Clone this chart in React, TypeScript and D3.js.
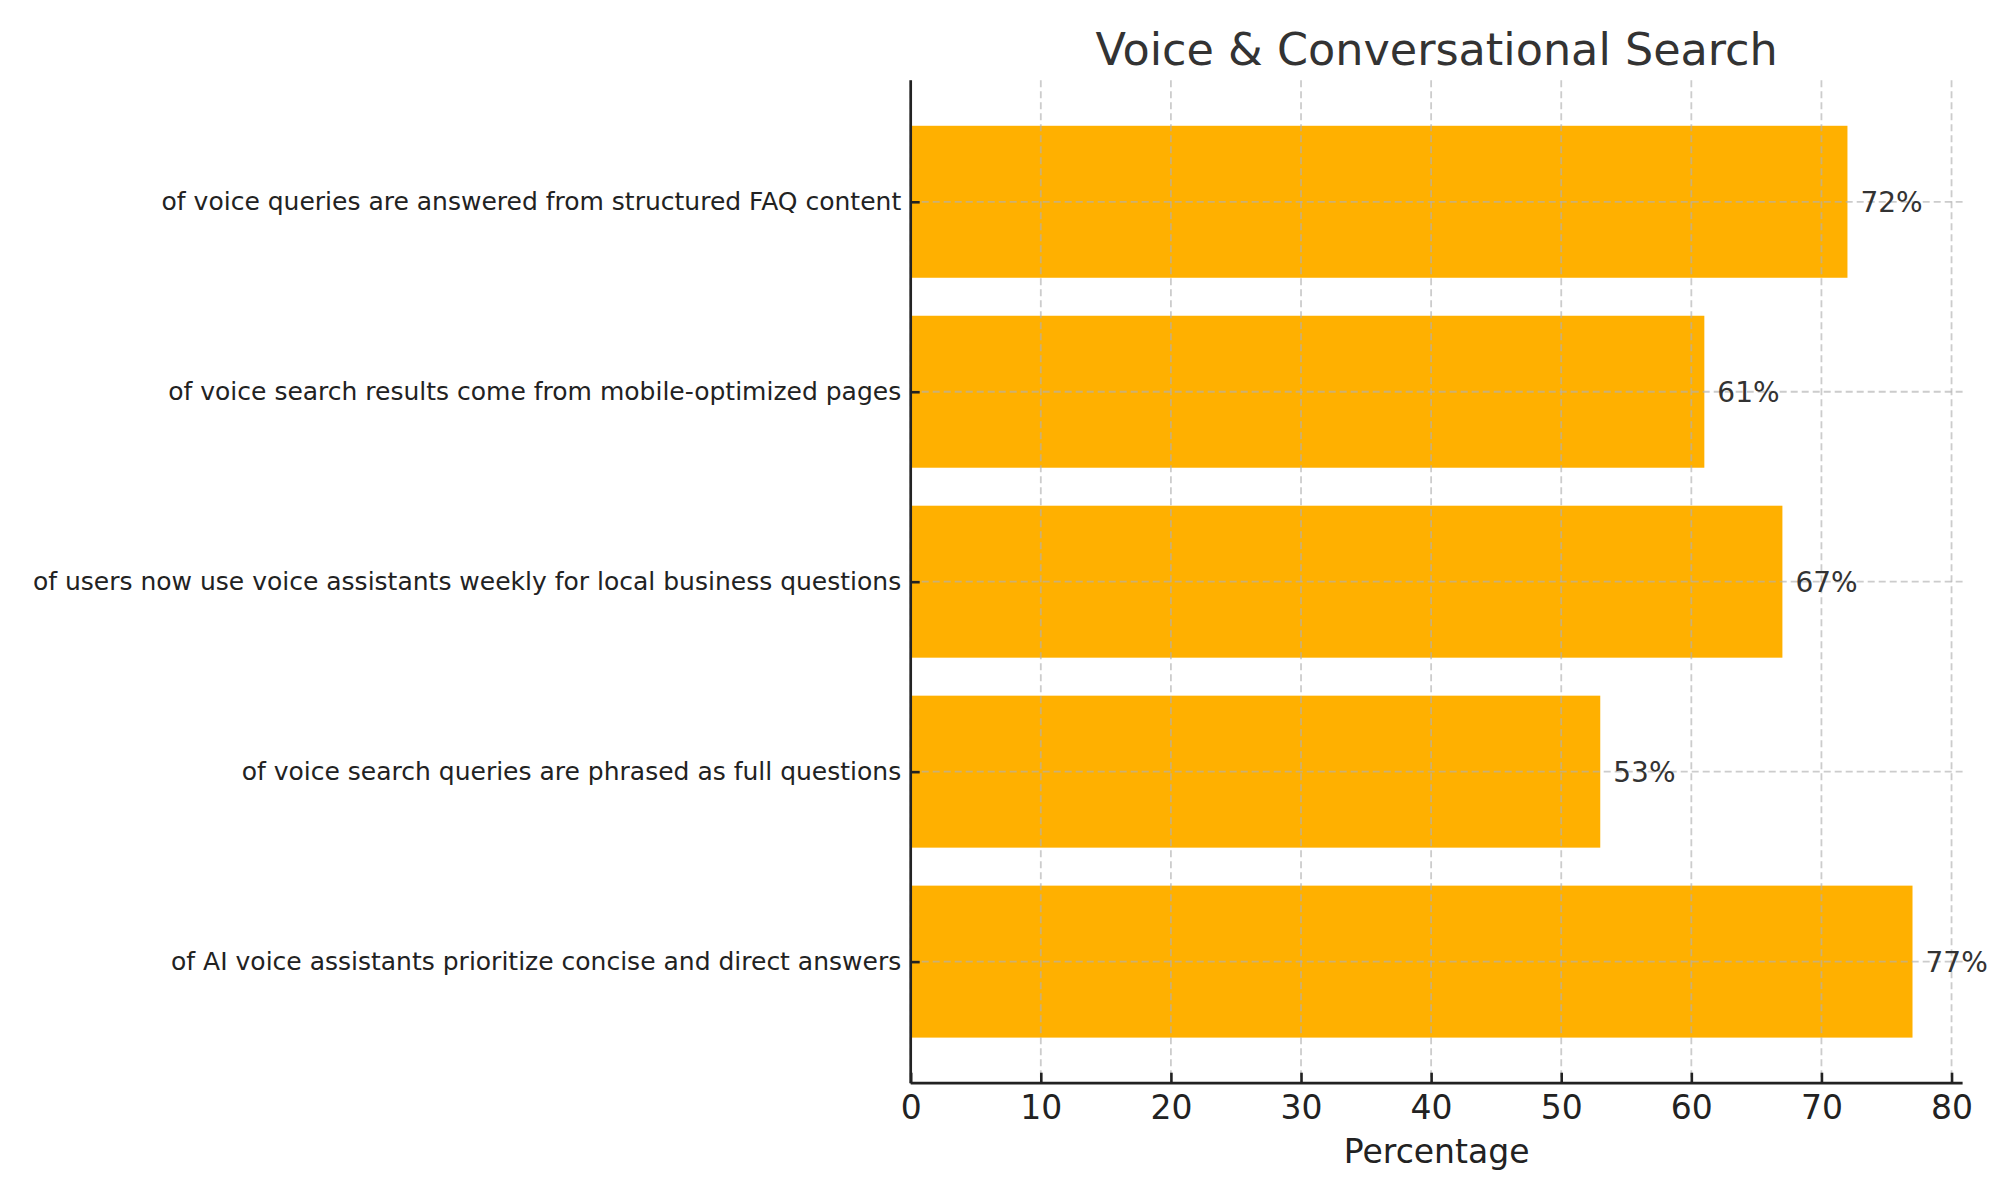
import { useEffect, useRef } from "react";
import * as d3 from "d3";

// rows listed top to bottom as they appear in the chart
const categories = [
  "of voice queries are answered from structured FAQ content",
  "of voice search results come from mobile-optimized pages",
  "of users now use voice assistants weekly for local business questions",
  "of voice search queries are phrased as full questions",
  "of AI voice assistants prioritize concise and direct answers",
];
const values = [72, 61, 67, 53, 77];
const xTicks = [0, 10, 20, 30, 40, 50, 60, 70, 80];

const WIDTH = 2000;
const HEIGHT = 1200;

export default function App() {
  const svgRef = useRef<SVGSVGElement>(null);

  useEffect(() => {
    if (!svgRef.current) return;
    document.body.style.margin = "0";

    const margin = { top: 80.2, right: 37.4, bottom: 116.8, left: 910.7 };
    const innerWidth = WIDTH - margin.left - margin.right;
    const innerHeight = HEIGHT - margin.top - margin.bottom;

    const svg = d3.select(svgRef.current);
    svg.selectAll("*").remove();
    svg.attr("viewBox", `0 0 ${WIDTH} ${HEIGHT}`)
      .style("font-family", "'DejaVu Sans', sans-serif");

    const g = svg.append("g")
      .attr("transform", `translate(${margin.left},${margin.top})`);

    // matplotlib-like limits: 5% margin on the max value
    const xMax = (d3.max(values) as number) * 1.05;
    const xScale = d3.scaleLinear().domain([0, xMax]).range([0, innerWidth]);

    // rows indexed 0..n-1 from the top, bar height 0.8, 0.24 padding above/below
    const n = categories.length;
    const yScale = d3.scaleLinear()
      .domain([-0.64, n - 1 + 0.64])
      .range([0, innerHeight]);
    const barH = yScale(0.8) - yScale(0);

    // bars
    g.selectAll("rect.bar")
      .data(values)
      .join("rect")
      .attr("class", "bar")
      .attr("x", xScale(0))
      .attr("y", (_, i) => yScale(i) - barH / 2)
      .attr("width", d => xScale(d) - xScale(0))
      .attr("height", barH)
      .attr("fill", "#FFB000");

    // grid (drawn over the bars)
    const grid = g.append("g")
      .attr("stroke", "#b0b0b0")
      .attr("stroke-opacity", 0.65)
      .attr("stroke-width", 1.8)
      .attr("stroke-dasharray", "7,4");

    grid.selectAll("line.vx")
      .data(xTicks)
      .join("line")
      .attr("class", "vx")
      .attr("x1", d => xScale(d))
      .attr("x2", d => xScale(d))
      .attr("y1", 0)
      .attr("y2", innerHeight);

    grid.selectAll("line.hy")
      .data(categories)
      .join("line")
      .attr("class", "hy")
      .attr("x1", 0)
      .attr("x2", innerWidth)
      .attr("y1", (_, i) => yScale(i))
      .attr("y2", (_, i) => yScale(i));

    // value labels
    g.selectAll("text.val")
      .data(values)
      .join("text")
      .attr("class", "val")
      .attr("x", d => xScale(d + 1))
      .attr("y", (_, i) => yScale(i))
      .attr("dy", "0.36em")
      .attr("font-size", 28)
      .attr("fill", "#333333")
      .text(d => `${d}%`);

    // x axis, ticks pointing inward
    const xAxis = d3.axisBottom(xScale)
      .tickValues(xTicks)
      .tickSizeInner(-10.5)
      .tickSizeOuter(0)
      .tickPadding(12.5);

    const xg = g.append("g")
      .attr("transform", `translate(0,${innerHeight})`)
      .call(xAxis);
    xg.select(".domain").remove();
    xg.selectAll(".tick line").attr("stroke", "#222").attr("stroke-width", 2.6);
    xg.selectAll(".tick text")
      .attr("font-size", 33)
      .attr("fill", "#222")
      .attr("font-family", "'DejaVu Sans', sans-serif");

    // y axis, category labels
    const yAxis = d3.axisLeft(yScale)
      .tickValues(d3.range(n))
      .tickFormat((_, i) => categories[i])
      .tickSizeInner(-9)
      .tickSizeOuter(0)
      .tickPadding(9.5);

    const yg = g.append("g").call(yAxis);
    yg.select(".domain").remove();
    yg.selectAll(".tick line").attr("stroke", "#222").attr("stroke-width", 2.6);
    yg.selectAll(".tick text")
      .attr("font-size", 25)
      .attr("fill", "#222")
      .attr("font-family", "'DejaVu Sans', sans-serif");

    // spines: left and bottom only
    g.append("line")
      .attr("x1", 0).attr("x2", 0)
      .attr("y1", 0).attr("y2", innerHeight)
      .attr("stroke", "#222").attr("stroke-width", 2.7);
    g.append("line")
      .attr("x1", 0).attr("x2", innerWidth)
      .attr("y1", innerHeight).attr("y2", innerHeight)
      .attr("stroke", "#222").attr("stroke-width", 2.7);

    // axis title
    g.append("text")
      .attr("x", innerWidth / 2)
      .attr("y", innerHeight + 80)
      .attr("text-anchor", "middle")
      .attr("font-size", 33)
      .attr("fill", "#222")
      .text("Percentage");

    // chart title
    svg.append("text")
      .attr("x", margin.left + innerWidth / 2)
      .attr("y", 65)
      .attr("text-anchor", "middle")
      .attr("font-size", 44.5)
      .attr("fill", "#333333")
      .text("Voice & Conversational Search");
  }, []);

  return (
    <div style={{ position: "absolute", left: 0, top: 0 }}>
      <svg ref={svgRef} width={WIDTH} height={HEIGHT} style={{ display: "block", background: "#fff" }} />
    </div>
  );
}
